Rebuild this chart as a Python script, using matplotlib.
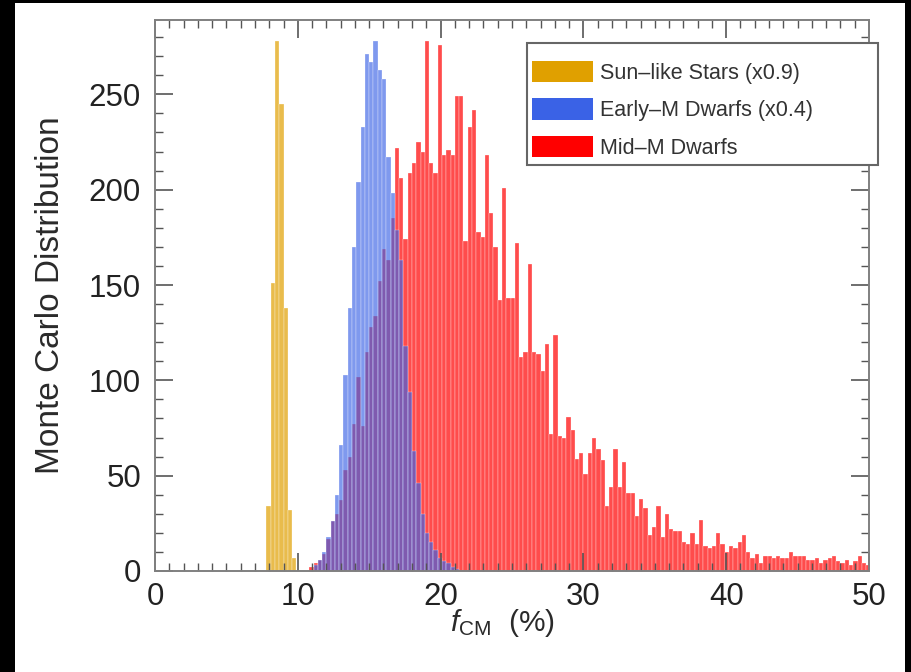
import numpy as np
import matplotlib
matplotlib.use("Agg")
import matplotlib.pyplot as plt
from matplotlib.patches import Rectangle, Patch
from matplotlib.ticker import MultipleLocator

plt.rcParams['font.family'] = ['Liberation Sans', 'DejaVu Sans']
plt.rcParams['mathtext.fontset'] = 'custom'
plt.rcParams['mathtext.rm'] = 'Liberation Sans'
plt.rcParams['mathtext.it'] = 'Liberation Sans:italic'

BIN = 0.3

# Sun-like stars (scaled x0.9)
sun_start = 7.8
sun_counts = [34, 151, 278, 245, 138, 32, 7]

# Early-M dwarfs (scaled x0.4)
early_start = 11.1
early_counts = [3, 6, 10, 18, 26, 40, 66, 103, 138, 170, 204, 233, 271, 267,
                278, 263, 258, 217, 198, 179, 163, 118, 94, 63, 46, 30, 20, 15,
                11, 7, 5, 4, 2, 1]

# Mid-M dwarfs
mid_start = 10.8
mid_counts = [2, 4, 6, 9, 17, 26, 30, 37, 53, 60, 77, 102, 76, 115, 128, 134,
              152, 169, 163, 185, 222, 206, 174, 209, 214, 225, 220, 278, 214,
              209, 276, 218, 221, 218, 249, 249, 173, 233, 242, 178, 175, 218,
              188, 170, 142, 201, 143, 143, 172, 112, 115, 161, 115, 114, 105,
              119, 72, 124, 71, 70, 81, 74, 59, 62, 51, 62, 70, 64, 58, 34, 44,
              64, 44, 57, 41, 41, 29, 38, 33, 19, 23, 34, 18, 30, 22, 21, 21,
              15, 14, 20, 14, 27, 13, 12, 13, 20, 14, 10, 13, 12, 15, 19, 10,
              7, 9, 4, 8, 8, 7, 8, 7, 7, 10, 8, 8, 8, 6, 6, 7, 4, 6, 7, 8, 5,
              4, 6, 3, 5, 8, 4, 3]

labels = ['Sun\u2013like Stars (x0.9)', 'Early\u2013M Dwarfs (x0.4)', 'Mid\u2013M Dwarfs']
colors = ['#e0a000', '#3a62e6', '#ff0000']


def edges(start, n):
    return start + BIN * np.arange(n)


fig = plt.figure(figsize=(9.12, 6.72), dpi=100, facecolor='black')
# white panel inside the black border
fig.patches.append(Rectangle((15 / 912, 0), 890 / 912, 669 / 672,
                             transform=fig.transFigure, facecolor='white',
                             edgecolor='none', zorder=-10))

ax = fig.add_axes([155 / 912, 101 / 672, 714 / 912, 551 / 672])
ax.set_zorder(1)

bar_kw = dict(width=BIN, align='edge', edgecolor='#ffffff', linewidth=0.3)
ax.bar(edges(sun_start, len(sun_counts)), sun_counts, color=colors[0],
       alpha=0.7, **bar_kw)
ax.bar(edges(mid_start, len(mid_counts)), mid_counts, color=colors[2],
       alpha=0.7, **bar_kw)
ax.bar(edges(early_start, len(early_counts)), early_counts, color=colors[1],
       alpha=0.65, **bar_kw)

ax.set_xlim(0, 50)
ax.set_ylim(0, 289)

ax.xaxis.set_major_locator(MultipleLocator(10))
ax.xaxis.set_minor_locator(MultipleLocator(1))
ax.yaxis.set_major_locator(MultipleLocator(50))
ax.yaxis.set_minor_locator(MultipleLocator(10))
ax.tick_params(which='both', direction='in', top=True, right=True,
               color='#555555', labelsize=22.5, labelcolor='#222222', pad=8)
ax.tick_params(axis='y', pad=10)
ax.tick_params(which='major', length=13, width=1.2)
ax.tick_params(which='minor', length=6, width=1.0)
for s in ax.spines.values():
    s.set_color('#808080')
    s.set_linewidth(1.4)

ax.set_ylabel('Monte Carlo Distribution', fontsize=24, color='#2a2a2a')
ax.yaxis.set_label_coords(-0.125, 0.5)
ax.set_xlabel(r'$f_{\rm CM}$  (%)', fontsize=21.5, color='#2a2a2a')
ax.xaxis.set_label_coords(0.486, -0.066)

# legend box drawn by hand, entries placed inside it
ax.add_patch(Rectangle((0.521, 0.737), 0.4916, 0.222, transform=ax.transAxes,
                       facecolor='white', edgecolor='#666666', linewidth=1.5,
                       clip_on=False, zorder=4))
handles = [Patch(facecolor=c, edgecolor='none') for c in colors]
leg = ax.legend(handles, labels, loc='upper left',
                bbox_to_anchor=(0.528, 0.926), frameon=False,
                fontsize=15.5, handlelength=2.84, handleheight=1.16,
                handletextpad=0.33, borderpad=0, labelspacing=0.67,
                borderaxespad=0)
leg.set_zorder(5)
for t in leg.get_texts():
    t.set_color('#333333')

fig.savefig('out.png', dpi=100, facecolor=fig.get_facecolor())
